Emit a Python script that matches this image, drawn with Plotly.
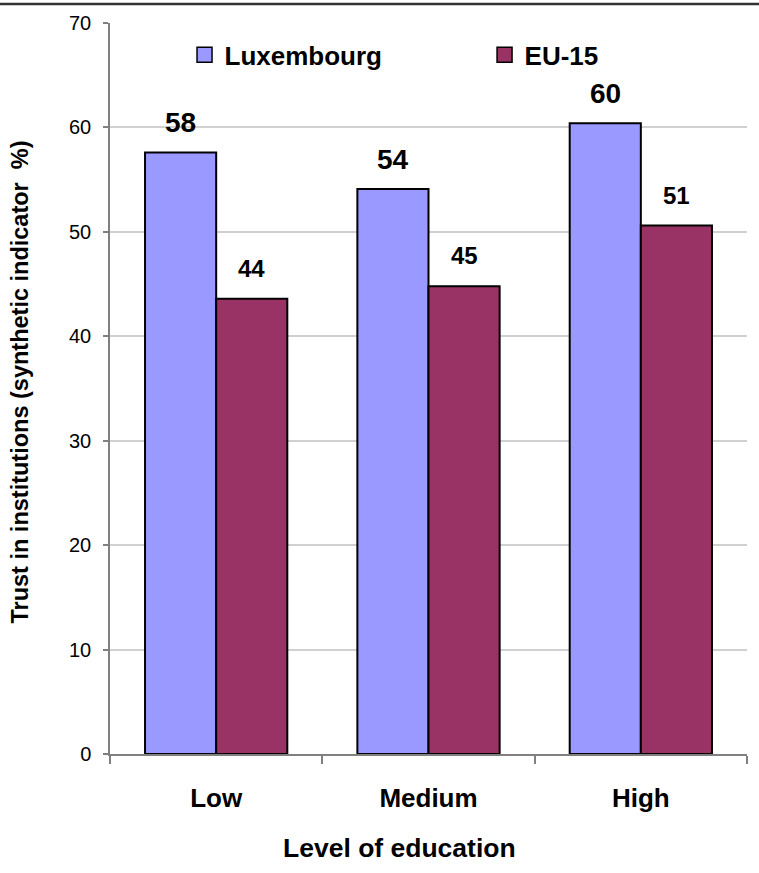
import plotly.graph_objects as go

# Trust in institutions by level of education
categories = ["Low", "Medium", "High"]
luxembourg = [57.6, 54.1, 60.4]
eu15 = [43.6, 44.8, 50.6]
series_names = ["Luxembourg", "EU-15"]
y_ticks = [0, 10, 20, 30, 40, 50, 60, 70]

LUX_COLOR = "#9999FF"
EU_COLOR = "#993366"
FONT = "Liberation Sans, Arial, sans-serif"

fig = go.Figure()

for name, vals, color, leg in [(series_names[0], luxembourg, LUX_COLOR, "legend"),
                               (series_names[1], eu15, EU_COLOR, "legend2")]:
    fig.add_trace(go.Bar(
        x=categories, y=vals, name=name, showlegend=False,
        marker=dict(color=color, line=dict(color="black", width=2)),
    ))
    # legend entry drawn as a bordered square
    fig.add_trace(go.Scatter(
        x=[None], y=[None], mode="markers", name=name, legend=leg,
        marker=dict(symbol="square", size=15, color=color,
                    line=dict(color="black", width=1.5)),
    ))

# value labels above each bar
for i, cat in enumerate(categories):
    fig.add_annotation(
        x=cat, y=luxembourg[i], text=f"{luxembourg[i]:.0f}", showarrow=False,
        xref="x", yref="y", xshift=-35.5, yshift=12, yanchor="bottom",
        font=dict(family=FONT, size=28, color="black", weight="bold"),
    )
    fig.add_annotation(
        x=cat, y=eu15[i], text=f"{eu15[i]:.0f}", showarrow=False,
        xref="x", yref="y", xshift=35.5, yshift=15, yanchor="bottom",
        font=dict(family=FONT, size=24, color="black", weight="bold"),
    )

# axis titles
fig.add_annotation(
    text="Level of education", xref="paper", yref="paper",
    x=0.4537, y=-0.129, xanchor="center", yanchor="middle", showarrow=False,
    font=dict(family=FONT, size=26.5, color="black", weight="bold"),
)
fig.add_annotation(
    text="Trust in institutions (synthetic indicator  %)", textangle=-90,
    xref="paper", yref="paper", x=-0.1413, y=0.5095,
    xanchor="center", yanchor="middle", showarrow=False,
    font=dict(family=FONT, size=23.5, color="black", weight="bold"),
)

# thin dark frame line along the top edge
fig.add_shape(type="line", xref="paper", yref="paper",
              x0=-110 / 637, x1=1 + 12 / 637, y0=1 + 19 / 734, y1=1 + 19 / 734,
              line=dict(color="#333333", width=2.5))

legend_style = dict(
    orientation="h", y=0.9564, xanchor="left", yanchor="middle",
    font=dict(family=FONT, size=26, color="black", weight="bold"),
    bgcolor="rgba(0,0,0,0)", itemclick=False, itemdoubleclick=False,
)

fig.update_layout(
    width=759, height=873,
    margin=dict(l=110, r=12, t=20, b=119),
    paper_bgcolor="white", plot_bgcolor="white",
    barmode="group", bargap=0.33, bargroupgap=0,
    font=dict(family=FONT, color="black"),
    showlegend=True,
    legend=dict(x=0.117, **legend_style),
    legend2=dict(x=0.588, **legend_style),
    xaxis=dict(
        type="category", showline=True, linecolor="#808080", linewidth=1.5,
        ticks="outside", tickson="boundaries", ticklen=8, tickcolor="#808080",
        tickwidth=1.5, showgrid=False, zeroline=False,
        tickfont=dict(family=FONT, size=26, color="black", weight="bold"),
        ticklabelstandoff=20,
    ),
    yaxis=dict(
        range=[0, 70], tickvals=y_ticks, showline=True, linecolor="#808080",
        linewidth=1.5, ticks="outside", ticklen=5, tickcolor="#808080",
        tickwidth=1.5, showgrid=True, gridcolor="#D0D0D0", gridwidth=1.5,
        zeroline=False, tickfont=dict(family=FONT, size=20, color="black"),
        ticklabelstandoff=8,
    ),
)

fig.write_html("out.html")
